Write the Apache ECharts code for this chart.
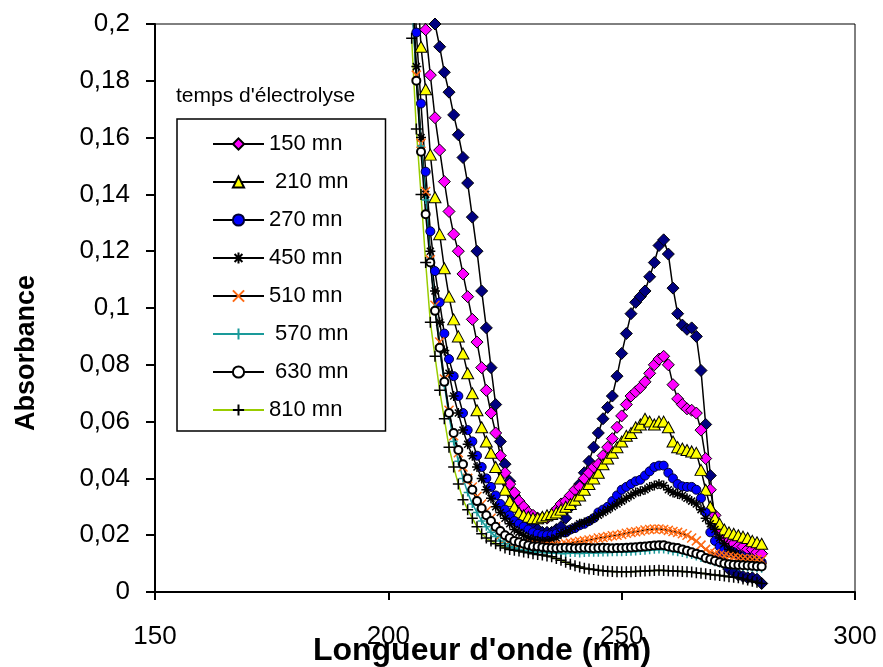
<!DOCTYPE html>
<html>
<head>
<meta charset="utf-8">
<title>Absorbance</title>
<script src="https://cdn.jsdelivr.net/npm/echarts@6/dist/echarts.min.js"></script>
<style>
  html, body { margin: 0; padding: 0; background: #fff; }
  #chart { width: 883px; height: 667px; }
</style>
</head>
<body>
<div id="chart"></div>
<script>
// longueurs d'onde (nm)
const wavelengths = [
  205, 206, 207, 208, 209, 210, 211, 212, 213, 214,
  215, 216, 217, 218, 219, 220, 221, 222, 223, 224,
  225, 226, 227, 228, 229, 230, 231, 232, 233, 234,
  235, 236, 237, 238, 239, 240, 241, 242, 243, 244,
  245, 246, 247, 248, 249, 250, 251, 252, 253, 254,
  255, 256, 257, 258, 259, 260, 261, 262, 263, 264,
  265, 266, 267, 268, 269, 270, 271, 272, 273, 274,
  275, 276, 277, 278, 279, 280
]

// série sans entrée de légende (losanges bleu marine)
const absNoLegend = [
  0.32, 0.29, 0.26, 0.235, 0.215, 0.200, 0.192, 0.183, 0.176, 0.168,
  0.161, 0.153, 0.144, 0.132, 0.120, 0.106, 0.093, 0.079, 0.066, 0.053,
  0.045, 0.039, 0.034, 0.030, 0.027, 0.025, 0.023, 0.022, 0.021, 0.021,
  0.021, 0.022, 0.023, 0.026, 0.030, 0.034, 0.038, 0.042, 0.046, 0.051,
  0.056, 0.061, 0.065, 0.069, 0.076, 0.084, 0.091, 0.098, 0.102, 0.104,
  0.106, 0.111, 0.116, 0.122, 0.124, 0.119, 0.107, 0.098, 0.094, 0.0925,
  0.093, 0.090, 0.078, 0.059, 0.041, 0.022, 0.013, 0.010, 0.008, 0.007,
  0.006, 0.0055, 0.005, 0.005, 0.0045, 0.003
]
const abs150 = [
  0.30, 0.26, 0.225, 0.198, 0.182, 0.167, 0.1556, 0.1445, 0.134, 0.126,
  0.120, 0.112, 0.104, 0.096, 0.088, 0.079, 0.071, 0.063, 0.056, 0.048,
  0.042, 0.038, 0.035, 0.032, 0.030, 0.028, 0.027, 0.026, 0.026, 0.026,
  0.027, 0.029, 0.031, 0.032, 0.034, 0.036, 0.037, 0.040, 0.042, 0.044,
  0.045, 0.048, 0.051, 0.054, 0.058, 0.062, 0.066, 0.069, 0.0705, 0.072,
  0.074, 0.077, 0.080, 0.082, 0.083, 0.080, 0.073, 0.068, 0.066, 0.0645,
  0.064, 0.063, 0.057, 0.047, 0.036, 0.027, 0.022, 0.019, 0.018, 0.017,
  0.016, 0.016, 0.015, 0.015, 0.014, 0.0135
]
const abs210 = [
  0.26, 0.22, 0.192, 0.177, 0.154, 0.139, 0.126, 0.114, 0.104, 0.096,
  0.090, 0.084, 0.077, 0.070, 0.064, 0.058, 0.053, 0.049, 0.044, 0.040,
  0.036, 0.032, 0.030, 0.028, 0.027, 0.0265, 0.026, 0.026, 0.0265, 0.027,
  0.0275, 0.028, 0.029, 0.030, 0.031, 0.0325, 0.034, 0.036, 0.038, 0.040,
  0.042, 0.045, 0.047, 0.049, 0.051, 0.053, 0.055, 0.056, 0.058, 0.059,
  0.061, 0.060, 0.059, 0.060, 0.060, 0.058, 0.053, 0.051, 0.0505, 0.050,
  0.0495, 0.049, 0.043, 0.036, 0.030, 0.026, 0.024, 0.022, 0.021, 0.0205,
  0.020, 0.0195, 0.019, 0.018, 0.0175, 0.017
]
const abs270 = [
  0.24, 0.197, 0.172, 0.148, 0.127, 0.113, 0.102, 0.091, 0.082, 0.076,
  0.069, 0.063, 0.057, 0.053, 0.048, 0.044, 0.040, 0.037, 0.034, 0.031,
  0.029, 0.027, 0.025, 0.024, 0.023, 0.022, 0.021, 0.0205, 0.020, 0.020,
  0.020, 0.0205, 0.021, 0.021, 0.022, 0.0225, 0.0235, 0.024, 0.025, 0.026,
  0.028, 0.029, 0.030, 0.032, 0.034, 0.036, 0.037, 0.038, 0.039, 0.0395,
  0.041, 0.0425, 0.044, 0.0445, 0.0445, 0.042, 0.040, 0.038, 0.0372, 0.037,
  0.037, 0.036, 0.033, 0.028, 0.021, 0.018, 0.016, 0.015, 0.0145, 0.014,
  0.013, 0.0125, 0.012, 0.0115, 0.011, 0.0105
]
const abs450 = [
  0.22, 0.185, 0.16, 0.14, 0.12, 0.106, 0.095, 0.085, 0.077, 0.069,
  0.063, 0.057, 0.052, 0.048, 0.044, 0.040, 0.036, 0.033, 0.030, 0.028,
  0.026, 0.024, 0.022, 0.021, 0.020, 0.019, 0.0185, 0.018, 0.018, 0.018,
  0.0185, 0.019, 0.0205, 0.021, 0.022, 0.023, 0.024, 0.0245, 0.025, 0.026,
  0.027, 0.028, 0.029, 0.030, 0.031, 0.032, 0.033, 0.034, 0.035, 0.0355,
  0.036, 0.037, 0.0375, 0.038, 0.0375, 0.036, 0.035, 0.0345, 0.034, 0.033,
  0.032, 0.031, 0.029, 0.026, 0.024, 0.022, 0.019, 0.017, 0.015, 0.014,
  0.013, 0.012, 0.0115, 0.011, 0.0105, 0.010
]
const abs510 = [
  0.21, 0.182, 0.158, 0.141, 0.117, 0.101, 0.088, 0.075, 0.064, 0.055,
  0.049, 0.044, 0.040, 0.037, 0.0336, 0.031, 0.0285, 0.026, 0.023, 0.020,
  0.0185, 0.018, 0.0175, 0.017, 0.0168, 0.0165, 0.0163, 0.016, 0.016, 0.016,
  0.016, 0.0163, 0.0165, 0.017, 0.0172, 0.0175, 0.0178, 0.018, 0.0183, 0.0186,
  0.019, 0.0192, 0.0195, 0.0198, 0.020, 0.0203, 0.0207, 0.021, 0.0212, 0.0215,
  0.0218, 0.022, 0.0222, 0.0222, 0.022, 0.0217, 0.0213, 0.021, 0.0205, 0.020,
  0.019, 0.018, 0.0165, 0.015, 0.014, 0.0135, 0.013, 0.0128, 0.0125, 0.0122,
  0.012, 0.0118, 0.0116, 0.0115, 0.0114, 0.0113
]
const abs570 = [
  0.21, 0.18, 0.157, 0.138, 0.117, 0.100, 0.086, 0.073, 0.062, 0.053,
  0.046, 0.040, 0.035, 0.031, 0.028, 0.025, 0.023, 0.021, 0.0195, 0.018,
  0.017, 0.016, 0.0155, 0.015, 0.0147, 0.0145, 0.0143, 0.014, 0.014, 0.0138,
  0.0137, 0.0137, 0.0136, 0.0136, 0.0137, 0.0137, 0.0136, 0.0137, 0.0138, 0.0138,
  0.0138, 0.0139, 0.0139, 0.014, 0.014, 0.014, 0.0141, 0.0142, 0.0143, 0.0144,
  0.0145, 0.0147, 0.0149, 0.015, 0.015, 0.0147, 0.0143, 0.014, 0.0137, 0.0133,
  0.013, 0.0125, 0.012, 0.0115, 0.011, 0.0105, 0.010, 0.0097, 0.0094, 0.0092,
  0.009, 0.0088, 0.0086, 0.0085, 0.0083, 0.0082
]
const abs630 = [
  0.22, 0.18, 0.155, 0.133, 0.116, 0.099, 0.086, 0.074, 0.063, 0.056,
  0.050, 0.045, 0.040, 0.036, 0.032, 0.0295, 0.027, 0.025, 0.023, 0.0215,
  0.020, 0.019, 0.018, 0.0175, 0.017, 0.0165, 0.016, 0.016, 0.0158, 0.0156,
  0.0155, 0.0154, 0.0155, 0.0156, 0.0155, 0.0154, 0.0155, 0.0156, 0.0155, 0.0154,
  0.0155, 0.0156, 0.0155, 0.0154, 0.0155, 0.0155, 0.0156, 0.0157, 0.0158, 0.0159,
  0.016, 0.0162, 0.0164, 0.0165, 0.0165, 0.016, 0.0157, 0.0155, 0.015, 0.0145,
  0.014, 0.0135, 0.013, 0.012, 0.0115, 0.011, 0.0105, 0.010, 0.0098, 0.0096,
  0.0095, 0.0094, 0.0093, 0.0092, 0.0091, 0.009
]
const abs810 = [
  0.195, 0.163, 0.140, 0.116, 0.095, 0.083, 0.071, 0.061, 0.051, 0.044,
  0.038, 0.0325, 0.029, 0.026, 0.023, 0.0205, 0.019, 0.018, 0.017, 0.0163,
  0.0155, 0.015, 0.0147, 0.0144, 0.0141, 0.0138, 0.0135, 0.0132, 0.013, 0.0127,
  0.0124, 0.0118, 0.0112, 0.0105, 0.0098, 0.0092, 0.0088, 0.0084, 0.0081, 0.0079,
  0.0077, 0.0075, 0.0073, 0.0072, 0.0071, 0.0071, 0.0071, 0.0071, 0.0072, 0.0073,
  0.0074, 0.0075, 0.0076, 0.0077, 0.0076, 0.0075, 0.0074, 0.0073, 0.0072, 0.0071,
  0.007, 0.0068, 0.0066, 0.0064, 0.0062, 0.006, 0.0058, 0.0056, 0.0054, 0.0052,
  0.005, 0.0046, 0.0042, 0.0038, 0.0034, 0.003
]

const legendNames = ['150 mn', ' 210 mn', '270 mn', '450 mn', '510 mn', ' 570 mn', ' 630 mn', '810 mn']
const xTicks = [150, 200, 250, 300]

const asterisk = 'path://M5,0L5,10M0,5L10,5M1.5,1.5L8.5,8.5M8.5,1.5L1.5,8.5'
const cross = 'path://M0,0L10,10M10,0L0,10'
const plus = 'path://M5,0L5,10M0,5L10,5'

function lineSeries(name, values, symbol, size, itemStyle, lineColor) {
  return {
    name: name,
    type: 'line',
    data: wavelengths.map((w, i) => [w, values[i]]),
    symbol: symbol,
    symbolSize: size,
    showAllSymbol: true,
    itemStyle: itemStyle,
    lineStyle: { color: lineColor || '#000', width: 1.5 },
    emphasis: { disabled: true }
  }
}

const chart = echarts.init(document.getElementById('chart'))
chart.setOption({
  animation: false,
  backgroundColor: '#fff',
  textStyle: { fontFamily: 'Liberation Sans, Arial, sans-serif', color: '#000' },
  title: {
    text: "temps d'électrolyse",
    left: 176,
    top: 86,
    padding: 0,
    textStyle: { fontSize: 21, fontWeight: 'normal', color: '#000', fontFamily: 'Liberation Sans, Arial, sans-serif' }
  },
  legend: {
    data: legendNames,
    orient: 'vertical',
    left: 177,
    top: 119,
    padding: [14, 37, 10, 35],
    itemWidth: 51,
    itemHeight: 14,
    itemGap: 16,
    borderColor: '#000',
    borderWidth: 1.5,
    selectedMode: false,
    textStyle: { fontSize: 22, lineHeight: 22, color: '#000' }
  },
  grid: {
    left: 155,
    right: 28,
    top: 24,
    bottom: 75,
    outerBoundsMode: 'none',
    containLabel: false,
    show: true,
    borderColor: '#000',
    borderWidth: 1
  },
  xAxis: {
    type: 'value',
    min: xTicks[0],
    max: xTicks[xTicks.length - 1],
    interval: 50,
    name: "Longueur d'onde (nm)",
    nameLocation: 'middle',
    nameGap: 43,
    nameMoveOverlap: false,
    nameTextStyle: { fontSize: 32, fontWeight: 'bold', color: '#000', padding: [0, 46, 0, 0] },
    axisLine: { lineStyle: { color: '#000', width: 2 } },
    axisTick: { length: 8, lineStyle: { color: '#000', width: 2 } },
    axisLabel: { fontSize: 26, color: '#000', margin: 32 },
    splitLine: { show: false }
  },
  yAxis: {
    type: 'value',
    min: 0,
    max: 0.2,
    interval: 0.02,
    name: 'Absorbance',
    nameLocation: 'middle',
    nameGap: 115,
    nameMoveOverlap: false,
    nameTextStyle: { fontSize: 27, fontWeight: 'bold', color: '#000', padding: [0, 90, 0, 0] },
    axisLine: { lineStyle: { color: '#000', width: 2 } },
    axisTick: { length: 9, lineStyle: { color: '#000', width: 2 } },
    axisLabel: {
      fontSize: 26,
      color: '#000',
      margin: 25,
      formatter: v => String(+v.toFixed(2)).replace('.', ',')
    },
    splitLine: { show: false }
  },
  series: [
    lineSeries('Série 9', absNoLegend, 'diamond', 12, { color: '#000080', borderColor: '#000', borderWidth: 1 }),
    lineSeries('150 mn', abs150, 'diamond', 12, { color: '#ff00ff', borderColor: '#000', borderWidth: 1 }),
    lineSeries(' 210 mn', abs210, 'triangle', [12, 11], { color: '#ffff00', borderColor: '#000', borderWidth: 1 }),
    lineSeries('270 mn', abs270, 'circle', 9, { color: '#0000ff', borderColor: '#000033', borderWidth: 1 }),
    lineSeries('450 mn', abs450, asterisk, 10, { color: '#000', borderColor: '#000', borderWidth: 1.5 }),
    lineSeries('510 mn', abs510, cross, 9, { color: '#ff6a13', borderColor: '#ff6a13', borderWidth: 1.5 }),
    lineSeries(' 570 mn', abs570, plus, 8, { color: '#1a9a9a', borderColor: '#1a9a9a', borderWidth: 1.5 }, '#1a9a9a'),
    lineSeries(' 630 mn', abs630, 'emptyCircle', 8, { color: '#000', borderColor: '#000', borderWidth: 1 }),
    lineSeries('810 mn', abs810, plus, 11, { color: '#000', borderColor: '#000', borderWidth: 1.5 }, '#99cc00')
  ]
})
</script>
</body>
</html>
